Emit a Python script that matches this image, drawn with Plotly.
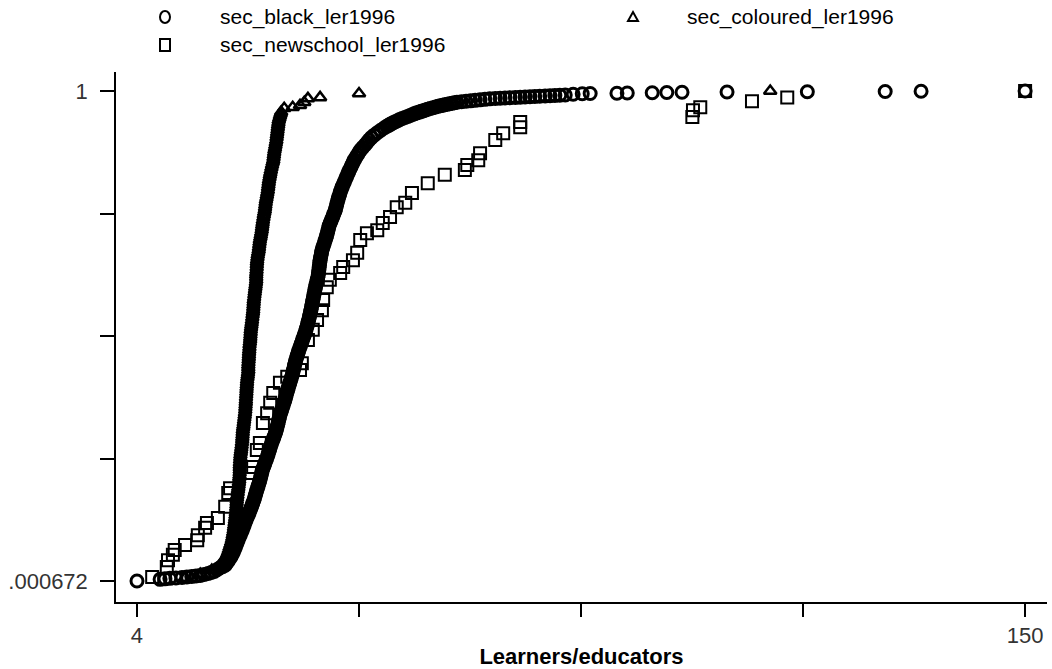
import plotly.graph_objects as go

# Cumulative distribution of learner/educator ratios, secondary schools, 1996.
# Each entry is (learners per educator, cumulative proportion of schools).
black_points = [
    (4.0, 0.000672), (7.8, 0.004), (8.6, 0.005), (9.4, 0.006), (10.4, 0.007),
    (11.4, 0.008), (12.2, 0.009), (13.0, 0.010), (13.7, 0.011), (14.4, 0.012),
    (15.05, 0.014), (15.7, 0.016), (16.2, 0.018), (16.7, 0.020), (17.15, 0.0235),
    (17.6, 0.027), (18.05, 0.030), (18.5, 0.033),
    (18.62, 0.035), (18.92, 0.040), (19.2, 0.045), (19.45, 0.050), (19.67, 0.055),
    (19.85, 0.060), (20.03, 0.065), (20.19, 0.070), (20.35, 0.075), (20.49, 0.080),
    (20.64, 0.085), (20.81, 0.090), (20.99, 0.095), (21.16, 0.100), (21.33, 0.105),
    (21.48, 0.110), (21.63, 0.115), (21.78, 0.120), (21.94, 0.125), (22.11, 0.130),
    (22.28, 0.135), (22.44, 0.140), (22.6, 0.145), (22.75, 0.150), (22.9, 0.155),
    (23.05, 0.160), (23.2, 0.165), (23.33, 0.170), (23.45, 0.175), (23.56, 0.180),
    (23.68, 0.185), (23.8, 0.190), (23.93, 0.195), (24.05, 0.200), (24.18, 0.205),
    (24.28, 0.210), (24.38, 0.215), (24.48, 0.220), (24.58, 0.225), (24.71, 0.230),
    (24.86, 0.235), (25.0, 0.240), (25.15, 0.245), (25.31, 0.250), (25.45, 0.255),
    (25.58, 0.260), (25.7, 0.265), (25.83, 0.270), (25.95, 0.275), (26.09, 0.280),
    (26.24, 0.285), (26.39, 0.290), (26.53, 0.295), (26.68, 0.300), (26.82, 0.305),
    (26.94, 0.310), (27.04, 0.315), (27.14, 0.320), (27.24, 0.325), (27.33, 0.330),
    (27.43, 0.335), (27.53, 0.340), (27.66, 0.345), (27.79, 0.350), (27.93, 0.355),
    (28.06, 0.360), (28.19, 0.365), (28.32, 0.370), (28.43, 0.375), (28.54, 0.380),
    (28.65, 0.385), (28.77, 0.390), (28.88, 0.395), (29.0, 0.400), (29.13, 0.405),
    (29.25, 0.410), (29.38, 0.415), (29.5, 0.420), (29.6, 0.425), (29.7, 0.430),
    (29.8, 0.435), (29.89, 0.440), (29.99, 0.445), (30.08, 0.450), (30.2, 0.455),
    (30.33, 0.460), (30.45, 0.465), (30.58, 0.470), (30.72, 0.475), (30.87, 0.480),
    (31.02, 0.485), (31.16, 0.490), (31.3, 0.495), (31.44, 0.500), (31.58, 0.505),
    (31.7, 0.510), (31.83, 0.515), (31.95, 0.520), (32.06, 0.525), (32.16, 0.530),
    (32.26, 0.535), (32.36, 0.540), (32.45, 0.545), (32.54, 0.550), (32.63, 0.555),
    (32.7, 0.560), (32.78, 0.565), (32.86, 0.570), (32.93, 0.575), (33.02, 0.580),
    (33.1, 0.585), (33.18, 0.590), (33.26, 0.595), (33.34, 0.600), (33.42, 0.605),
    (33.52, 0.610), (33.62, 0.615), (33.72, 0.620), (33.81, 0.625), (33.86, 0.630),
    (33.9, 0.635), (33.95, 0.640), (34.0, 0.645), (34.05, 0.650), (34.1, 0.655),
    (34.18, 0.660), (34.25, 0.665), (34.33, 0.670), (34.4, 0.675), (34.53, 0.680),
    (34.67, 0.685), (34.8, 0.690), (34.93, 0.695), (35.05, 0.700), (35.18, 0.705),
    (35.28, 0.710), (35.38, 0.715), (35.48, 0.720), (35.58, 0.725), (35.73, 0.730),
    (35.9, 0.735), (36.07, 0.740), (36.23, 0.745), (36.38, 0.750), (36.54, 0.755),
    (36.66, 0.760), (36.76, 0.765), (36.86, 0.770), (36.96, 0.775), (37.08, 0.780),
    (37.2, 0.785), (37.33, 0.790), (37.45, 0.795), (37.6, 0.800), (37.75, 0.805),
    (37.92, 0.810), (38.1, 0.815), (38.27, 0.820), (38.45, 0.825), (38.62, 0.830),
    (38.8, 0.835), (38.98, 0.840), (39.18, 0.845), (39.37, 0.850), (39.55, 0.855),
    (39.75, 0.860), (40.0, 0.865), (40.25, 0.870), (40.5, 0.875), (40.77, 0.880),
    (41.13, 0.885), (41.49, 0.890), (41.83, 0.895), (42.15, 0.900), (42.53, 0.905),
    (43.0, 0.910), (43.5, 0.915), (44.08, 0.920), (44.68, 0.925),
    (45.08, 0.928), (45.35, 0.930), (45.63, 0.932), (45.9, 0.934), (46.2, 0.936),
    (46.55, 0.938), (46.9, 0.940), (47.2, 0.942), (47.6, 0.944), (48.05, 0.946),
    (48.5, 0.948), (48.9, 0.950), (49.3, 0.952), (49.65, 0.954), (50.0, 0.9555),
    (50.4, 0.957), (50.75, 0.9585), (51.1, 0.960), (51.45, 0.9615), (51.8, 0.963),
    (52.2, 0.9645), (52.65, 0.966), (53.1, 0.9675), (53.5, 0.969), (53.9, 0.970),
    (54.25, 0.971), (54.6, 0.972), (55.0, 0.973), (55.4, 0.974), (55.8, 0.975),
    (56.2, 0.976), (56.6, 0.977), (57.35, 0.978), (58.1, 0.979), (58.85, 0.980),
    (59.6, 0.981), (60.4, 0.982), (61.2, 0.983), (62.0, 0.984), (62.9, 0.985),
    (63.7, 0.9855), (64.5, 0.986), (65.3, 0.9865), (66.2, 0.987), (67.0, 0.9875),
    (67.8, 0.988), (68.6, 0.9885), (69.4, 0.989), (70.2, 0.9895), (71.1, 0.990),
    (71.9, 0.9905), (72.7, 0.991), (73.5, 0.9915), (74.4, 0.992),
    (75.7, 0.9935), (77.2, 0.9945), (78.5, 0.995), (82.9, 0.9955), (84.6, 0.996),
    (88.7, 0.9965), (91.1, 0.997), (93.6, 0.9975), (101.0, 0.998), (114.2, 0.9985),
    (127.0, 0.999), (132.9, 0.9995), (150.0, 1.0),
]

coloured_points = sorted([
    (11.9, 0.007), (14.4, 0.015), (16.3, 0.023), (17.6, 0.033), (18.1, 0.040),
    (18.6, 0.047), (18.85, 0.055), (19.1, 0.064), (19.35, 0.074), (19.6, 0.084),
    (19.75, 0.094), (19.9, 0.104), (20.0, 0.114), (20.1, 0.124), (20.2, 0.134),
    (20.3, 0.145), (20.35, 0.155), (20.4, 0.165), (20.5, 0.175), (20.6, 0.186),
    (20.7, 0.196), (20.8, 0.206), (20.85, 0.216), (20.9, 0.226), (20.9, 0.236),
    (20.95, 0.247), (21.0, 0.257), (21.1, 0.267), (21.2, 0.277), (21.3, 0.288),
    (21.35, 0.298), (21.4, 0.308), (21.5, 0.318), (21.6, 0.328), (21.7, 0.338),
    (21.8, 0.349), (21.85, 0.359), (21.9, 0.369), (21.95, 0.380), (22.0, 0.390),
    (22.05, 0.400), (22.1, 0.410), (22.2, 0.420), (22.3, 0.430), (22.3, 0.440),
    (22.35, 0.451), (22.4, 0.461), (22.45, 0.471), (22.5, 0.482), (22.6, 0.492),
    (22.65, 0.502), (22.7, 0.512), (22.8, 0.522), (22.9, 0.532), (23.0, 0.543),
    (23.1, 0.553), (23.15, 0.563), (23.2, 0.573), (23.3, 0.584), (23.4, 0.594),
    (23.5, 0.604), (23.6, 0.614), (23.6, 0.624), (23.65, 0.634), (23.7, 0.645),
    (23.75, 0.655), (23.85, 0.665), (24.0, 0.675), (24.1, 0.686), (24.2, 0.696),
    (24.35, 0.706), (24.5, 0.716), (24.6, 0.726), (24.7, 0.736), (24.85, 0.747),
    (25.0, 0.757), (25.1, 0.767), (25.2, 0.777), (25.35, 0.787), (25.5, 0.797),
    (25.6, 0.808), (25.7, 0.818), (25.85, 0.828), (26.0, 0.838), (26.2, 0.849),
    (26.4, 0.859), (26.5, 0.869), (26.6, 0.879), (26.75, 0.889), (26.9, 0.899),
    (27.0, 0.910), (27.1, 0.920), (27.2, 0.930), (27.3, 0.940), (27.5, 0.949),
    (27.7, 0.957), (28.2, 0.965), (29.6, 0.967), (30.8, 0.971), (31.5, 0.977),
    (32.1, 0.985), (34.1, 0.987), (40.5, 0.995), (108.1, 1.0),
    (18.35, 0.0435), (18.72, 0.051), (18.98, 0.0595), (19.22, 0.069), (19.48, 0.079),
    (19.68, 0.089), (19.82, 0.099), (19.95, 0.109), (20.05, 0.119), (20.15, 0.129),
    (20.25, 0.1395), (20.32, 0.150), (20.38, 0.160), (20.45, 0.170), (20.55, 0.1805),
    (20.65, 0.191), (20.75, 0.201), (20.82, 0.211), (20.88, 0.221), (20.9, 0.231),
    (20.92, 0.2415), (20.98, 0.252), (21.05, 0.262), (21.15, 0.272), (21.25, 0.2825),
    (21.32, 0.293), (21.38, 0.303), (21.45, 0.313), (21.55, 0.323), (21.65, 0.333),
    (21.75, 0.3435), (21.82, 0.354), (21.88, 0.364), (21.92, 0.3745), (21.98, 0.385),
    (22.02, 0.395), (22.08, 0.405), (22.15, 0.415), (22.25, 0.425), (22.3, 0.435),
    (22.32, 0.4455), (22.38, 0.456), (22.42, 0.466), (22.48, 0.4765), (22.55, 0.487),
    (22.62, 0.497), (22.68, 0.507), (22.75, 0.517), (22.85, 0.527), (22.95, 0.5375),
    (23.05, 0.548), (23.12, 0.558), (23.18, 0.568), (23.25, 0.5785), (23.35, 0.589),
    (23.45, 0.599), (23.55, 0.609), (23.6, 0.619), (23.62, 0.629), (23.68, 0.6395),
    (23.72, 0.650), (23.8, 0.660), (23.92, 0.670), (24.05, 0.6805), (24.15, 0.691),
    (24.28, 0.701), (24.42, 0.711), (24.55, 0.721), (24.65, 0.731), (24.78, 0.7415),
    (24.92, 0.752), (25.05, 0.762), (25.15, 0.772), (25.28, 0.782), (25.42, 0.792),
    (25.55, 0.8025), (25.65, 0.813), (25.78, 0.823), (25.92, 0.833), (26.1, 0.8435),
    (26.3, 0.854), (26.45, 0.864), (26.55, 0.874), (26.68, 0.884), (26.82, 0.894),
    (26.95, 0.9045), (27.05, 0.915), (27.15, 0.925), (27.25, 0.935), (27.4, 0.9445),
    (27.6, 0.953),
], key=lambda p: p[1])

newschool_points = [
    (6.5, 0.009), (8.9, 0.029), (9.1, 0.043), (9.9, 0.054), (10.2, 0.064),
    (11.9, 0.074), (13.9, 0.084), (14.0, 0.094), (15.2, 0.109), (15.5, 0.119),
    (17.3, 0.129), (18.5, 0.152), (19.0, 0.180), (19.3, 0.190), (22.6, 0.221),
    (23.1, 0.233), (23.7, 0.268), (24.2, 0.282), (24.7, 0.323), (25.4, 0.343),
    (25.9, 0.364), (26.4, 0.384), (27.5, 0.405), (28.7, 0.417), (30.8, 0.431),
    (31.1, 0.445), (32.1, 0.492), (32.9, 0.513), (33.6, 0.533), (34.4, 0.553),
    (34.6, 0.574), (35.2, 0.600), (35.7, 0.615), (37.4, 0.629), (37.9, 0.641),
    (39.5, 0.655), (40.2, 0.670), (40.7, 0.696), (41.8, 0.710), (43.5, 0.716),
    (44.4, 0.731), (45.6, 0.743), (46.7, 0.763), (48.1, 0.772), (49.2, 0.792),
    (51.8, 0.812), (54.6, 0.829), (57.9, 0.839), (58.3, 0.849), (60.1, 0.859),
    (60.4, 0.873), (62.9, 0.900), (64.2, 0.914), (67.0, 0.926), (67.0, 0.937),
    (95.3, 0.947), (95.4, 0.961), (96.6, 0.967), (105.1, 0.979), (110.9, 0.987),
    (150.0, 1.0),
]

series_names = ["sec_black_ler1996", "sec_coloured_ler1996", "sec_newschool_ler1996"]
x_title = "Learners/educators"
x_ticks = [4, 40.5, 77, 113.5, 150]
x_ticklabels = ["4", "", "", "", "150"]
y_ticks = [0.000672, 0.25, 0.5, 0.75, 1]
y_ticklabels = [".000672", "", "", "", "1"]

FONT = "Liberation Sans, Arial, sans-serif"
W, H = 1052, 669
M_L, M_R, M_T, M_B = 116, 5, 72, 67
PW, PH = W - M_L - M_R, H - M_T - M_B


def split(points):
    xs = [p[0] for p in points]
    ys = [p[1] for p in points]
    return xs, ys


fig = go.Figure()

styles = [
    (black_points, "circle-open", 12, 3.0),
    (coloured_points, "triangle-up-open", 11, 2.5),
    (newschool_points, "square-open", 12, 2.0),
]
for (pts, sym, size, lw), name in zip(styles, series_names):
    xs, ys = split(pts)
    fig.add_trace(go.Scatter(
        x=xs, y=ys, mode="markers", name=name, showlegend=False,
        marker=dict(symbol=sym, size=size, color="black",
                    line=dict(color="black", width=lw)),
    ))


def px_x(px):
    return (px - M_L) / PW


def px_y(py):
    return (M_T + PH - py) / PH


# Key: symbol samples and labels above the plot area
shapes = []
annotations = []
key_items = [
    ("circle", 165, 17, 219, series_names[0]),
    ("triangle", 633, 17, 686, series_names[1]),
    ("square", 165, 45, 219, series_names[2]),
]
for kind, sx, sy, tx, label in key_items:
    common = dict(xref="paper", yref="paper", xsizemode="pixel", ysizemode="pixel",
                  xanchor=px_x(sx), yanchor=px_y(sy),
                  line=dict(color="black", width=2), fillcolor="rgba(0,0,0,0)")
    if kind == "circle":
        shapes.append(dict(type="circle", x0=-5, x1=5, y0=-6, y1=6, **common))
    elif kind == "square":
        shapes.append(dict(type="rect", x0=-5, x1=5, y0=-6, y1=6, **common))
    else:
        shapes.append(dict(type="path", path="M -5,-4 L 5,-4 L 0,5 Z", **common))
    annotations.append(dict(
        text=label, xref="paper", yref="paper", x=px_x(tx), y=px_y(sy),
        xanchor="left", yanchor="middle", showarrow=False, borderpad=0,
        font=dict(family=FONT, size=21, color="black"),
    ))

fig.update_layout(
    width=W, height=H,
    margin=dict(l=M_L, r=M_R, t=M_T, b=M_B, pad=0),
    paper_bgcolor="white", plot_bgcolor="white",
    showlegend=False,
    shapes=shapes,
    annotations=annotations,
    font=dict(family=FONT, size=22, color="black"),
    xaxis=dict(
        range=[0.55, 153.6], tickvals=x_ticks, ticktext=x_ticklabels,
        ticks="outside", ticklen=13, tickwidth=1.5, tickcolor="black",
        showline=True, linecolor="black", linewidth=1.5,
        showgrid=False, zeroline=False,
        tickfont=dict(family=FONT, size=22, color="#333"),
        title=dict(text=x_title, font=dict(family=FONT, size=22, color="black",
                                           weight="bold"), standoff=1),
    ),
    yaxis=dict(
        range=[-0.0422, 1.0388], tickvals=y_ticks, ticktext=y_ticklabels,
        ticks="outside", ticklen=14, tickwidth=1.5, tickcolor="black",
        showline=True, linecolor="black", linewidth=1.5,
        showgrid=False, zeroline=False,
        tickfont=dict(family=FONT, size=22, color="#333"),
        ticklabelstandoff=8,
    ),
)

fig.write_html("out.html")
